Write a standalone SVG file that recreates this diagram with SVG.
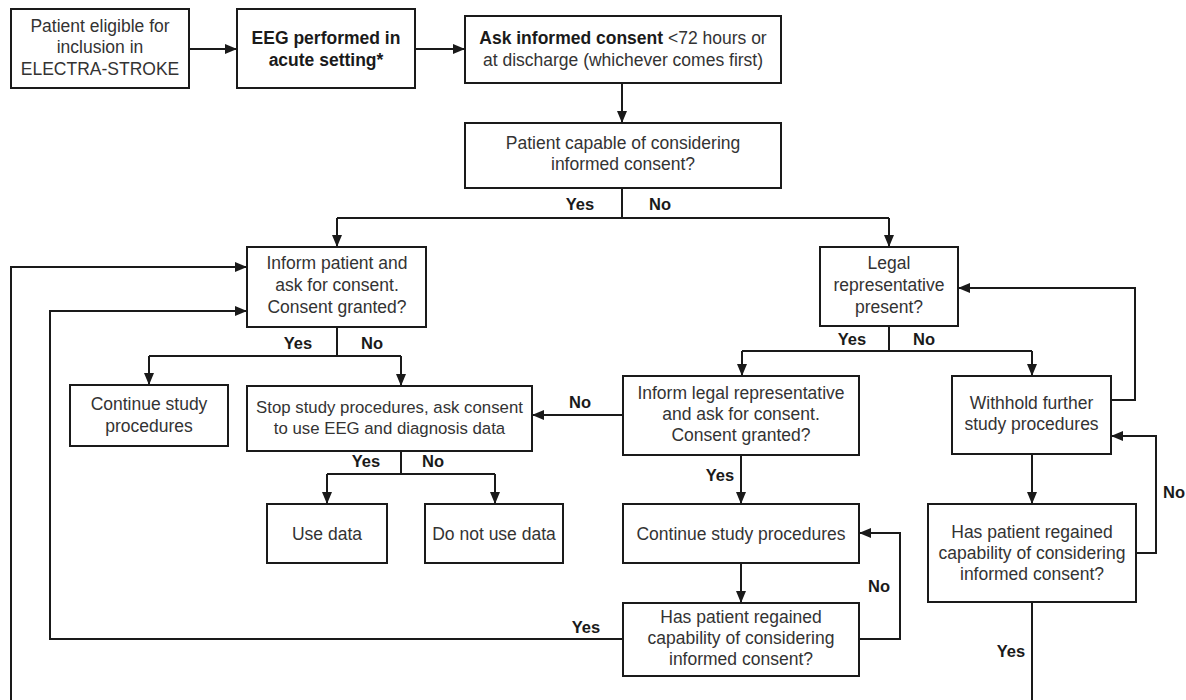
<svg xmlns="http://www.w3.org/2000/svg" width="1186" height="700" viewBox="0 0 1186 700">
<style>
.box{fill:#fff;stroke:#1a1a1a;stroke-width:2}
.t{font-family:"Liberation Sans",Arial,sans-serif;font-size:17.5px;fill:#333;text-anchor:middle}
.b{font-weight:bold;fill:#1a1a1a}
.s{font-size:16.8px}
.lbl{font-family:"Liberation Sans",Arial,sans-serif;font-size:16.5px;font-weight:bold;fill:#1a1a1a;text-anchor:middle}
.c{fill:none;stroke:#1a1a1a;stroke-width:2}
.a{marker-end:url(#arr)}
</style>
<defs>
<marker id="arr" viewBox="0 0 12 10" refX="12" refY="5" markerWidth="12" markerHeight="10" markerUnits="userSpaceOnUse" orient="auto">
<path d="M0,0 L12,5 L0,10 z" fill="#1a1a1a"/>
</marker>
</defs>
<rect width="1186" height="700" fill="#fff"/>
<g id="connectors">
<path class="c a" d="M189,49 H237"/>
<path class="c a" d="M415,49 H465"/>
<path class="c a" d="M622,83 V123"/>
<path class="c" d="M622,188 V218 M337,218 H889"/>
<path class="c a" d="M337,218 V247"/>
<path class="c a" d="M889,218 V247"/>
<path class="c" d="M337,327 V356 M149,356 H401"/>
<path class="c a" d="M149,356 V385"/>
<path class="c a" d="M401,356 V386"/>
<path class="c" d="M889,326 V351 M742,351 H1032"/>
<path class="c a" d="M742,351 V376"/>
<path class="c a" d="M1032,351 V376"/>
<path class="c a" d="M623,415 H532"/>
<path class="c" d="M401,451 V474 M327,474 H495"/>
<path class="c a" d="M327,474 V504"/>
<path class="c a" d="M495,474 V504"/>
<path class="c a" d="M741,455 V504"/>
<path class="c a" d="M741,563 V603"/>
<path class="c a" d="M859,639 H900 V533 H859"/>
<path class="c a" d="M623,639 H50 V311 H247"/>
<path class="c a" d="M1111,400 H1135 V288 H958"/>
<path class="c a" d="M1032,454 V504"/>
<path class="c a" d="M1136,553 H1156 V436 H1111"/>
<path class="c" d="M1032,602 V700"/>
<path class="c a" d="M11,700 V267 H247"/>
<text class="lbl" x="580" y="210">Yes</text>
<text class="lbl" x="660" y="210">No</text>
<text class="lbl" x="298" y="349">Yes</text>
<text class="lbl" x="372" y="349">No</text>
<text class="lbl" x="852" y="345">Yes</text>
<text class="lbl" x="924" y="345">No</text>
<text class="lbl" x="580" y="408">No</text>
<text class="lbl" x="366" y="467">Yes</text>
<text class="lbl" x="433" y="467">No</text>
<text class="lbl" x="720" y="481">Yes</text>
<text class="lbl" x="879" y="592">No</text>
<text class="lbl" x="586" y="633">Yes</text>
<text class="lbl" x="1174" y="498">No</text>
<text class="lbl" x="1011" y="657">Yes</text>
</g>
<g id="n1"><rect class="box" x="11" y="9" width="178" height="79"/>
<text class="t" x="100" y="32">Patient eligible for</text>
<text class="t" x="100" y="53">inclusion in</text>
<text class="t" x="100" y="74.5">ELECTRA-STROKE</text></g>
<g id="n2"><rect class="box" x="237" y="9" width="178" height="79"/>
<text class="t b" x="326" y="44" font-size="17">EEG performed in</text>
<text class="t b" x="326" y="66" font-size="17">acute setting*</text></g>
<g id="n3"><rect class="box" x="465" y="16" width="316" height="67"/>
<text class="t" x="623" y="44"><tspan class="b">Ask informed consent</tspan> &lt;72 hours or</text>
<text class="t" x="623" y="66">at discharge (whichever comes first)</text></g>
<g id="n4"><rect class="box" x="465" y="123" width="316" height="65"/>
<text class="t" x="623" y="149">Patient capable of considering</text>
<text class="t" x="623" y="170">informed consent?</text></g>
<g id="n5"><rect class="box" x="247" y="247" width="179" height="80"/>
<text class="t" x="337" y="269">Inform patient and</text>
<text class="t" x="337" y="291">ask for consent.</text>
<text class="t" x="337" y="313">Consent granted?</text></g>
<g id="n6"><rect class="box" x="820" y="247" width="138" height="79"/>
<text class="t" x="889" y="269">Legal</text>
<text class="t" x="889" y="291">representative</text>
<text class="t" x="889" y="313">present?</text></g>
<g id="n7"><rect class="box" x="70" y="385" width="158" height="61"/>
<text class="t" x="149" y="410">Continue study</text>
<text class="t" x="149" y="432">procedures</text></g>
<g id="n8"><rect class="box" x="247" y="386" width="285" height="65"/>
<text class="t s" x="389.5" y="413">Stop study procedures, ask consent</text>
<text class="t s" x="389.5" y="433.5">to use EEG and diagnosis data</text></g>
<g id="n9"><rect class="box" x="623" y="376" width="236" height="79"/>
<text class="t" x="741" y="399">Inform legal representative</text>
<text class="t" x="741" y="420">and ask for consent.</text>
<text class="t" x="741" y="441">Consent granted?</text></g>
<g id="n10"><rect class="box" x="952" y="376" width="159" height="78"/>
<text class="t" x="1031.5" y="409">Withhold further</text>
<text class="t" x="1031.5" y="430">study procedures</text></g>
<g id="n11"><rect class="box" x="267" y="504" width="120" height="59"/>
<text class="t" x="327" y="540">Use data</text></g>
<g id="n12"><rect class="box" x="425" y="504" width="138" height="59"/>
<text class="t" x="494" y="540">Do not use data</text></g>
<g id="n13"><rect class="box" x="623" y="504" width="236" height="59"/>
<text class="t" x="741" y="539.5">Continue study procedures</text></g>
<g id="n14"><rect class="box" x="623" y="603" width="236" height="73"/>
<text class="t" x="741" y="623">Has patient regained</text>
<text class="t" x="741" y="644">capability of considering</text>
<text class="t" x="741" y="665">informed consent?</text></g>
<g id="n15"><rect class="box" x="928" y="504" width="208" height="98"/>
<text class="t" x="1032" y="538">Has patient regained</text>
<text class="t" x="1032" y="559">capability of considering</text>
<text class="t" x="1032" y="580">informed consent?</text></g>
</svg>
